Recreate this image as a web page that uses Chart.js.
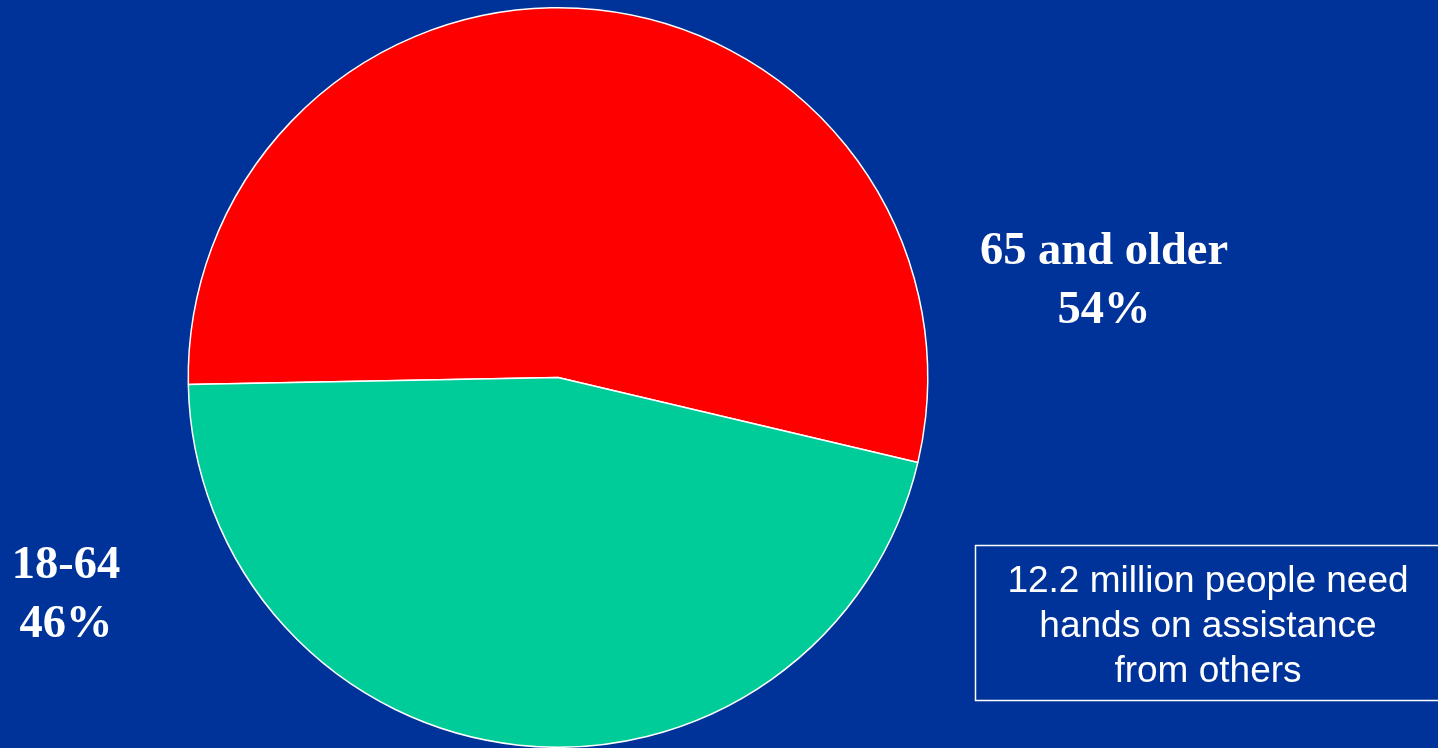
<!DOCTYPE html>
<html>
<head>
<meta charset="utf-8">
<script src="https://cdn.jsdelivr.net/npm/chart.js@4"></script>
<style>
  html, body { margin: 0; padding: 0; background: #003399; overflow: hidden; }
  #wrap { position: relative; width: 1438px; height: 748px; }
</style>
</head>
<body>
<div id="wrap"><canvas id="pie"></canvas></div>
<script>
const categories = ['65 and older', '18-64'];
const shares = [54, 46];
const sliceColors = ['#FF0000', '#00CC99'];
const noteLines = ['12.2 million people need', 'hands on assistance', 'from others'];

// slice labels: name on the first line, share on the second
const labelSpots = [
  { x: 1104, y: 264, dy: 59 },
  { x: 66, y: 578, dy: 59 }
];

const pieLabels = {
  id: 'pieLabels',
  afterDraw(chart) {
    const ctx = chart.ctx;
    ctx.save();
    ctx.fillStyle = '#ffffff';
    ctx.textAlign = 'center';
    ctx.textBaseline = 'alphabetic';
    ctx.font = 'bold 46.5px "Liberation Serif", "Times New Roman", serif';
    categories.forEach((name, i) => {
      const s = labelSpots[i];
      ctx.fillText(name, s.x, s.y);
      ctx.fillText(shares[i] + '%', s.x, s.y + s.dy);
    });

    // note box at lower right
    ctx.strokeStyle = '#ffffff';
    ctx.lineWidth = 1.5;
    ctx.strokeRect(975.5, 545.5, 480, 155);
    ctx.font = '37px "Liberation Sans", Arial, sans-serif';
    noteLines.forEach((line, i) => {
      ctx.fillText(line, 1208, 592 + i * 45);
    });
    ctx.restore();
  }
};

new Chart(document.getElementById('pie'), {
  type: 'pie',
  data: {
    labels: categories,
    datasets: [{
      data: shares,
      backgroundColor: sliceColors,
      borderColor: '#ffffff',
      borderWidth: 1.5
    }]
  },
  options: {
    responsive: true,
    maintainAspectRatio: false,
    animation: false,
    rotation: -91.1,
    layout: { padding: { left: 187, right: 509, top: 7, bottom: -1 } },
    plugins: {
      legend: { display: false },
      tooltip: { enabled: false }
    }
  },
  plugins: [pieLabels]
});
</script>
</body>
</html>
